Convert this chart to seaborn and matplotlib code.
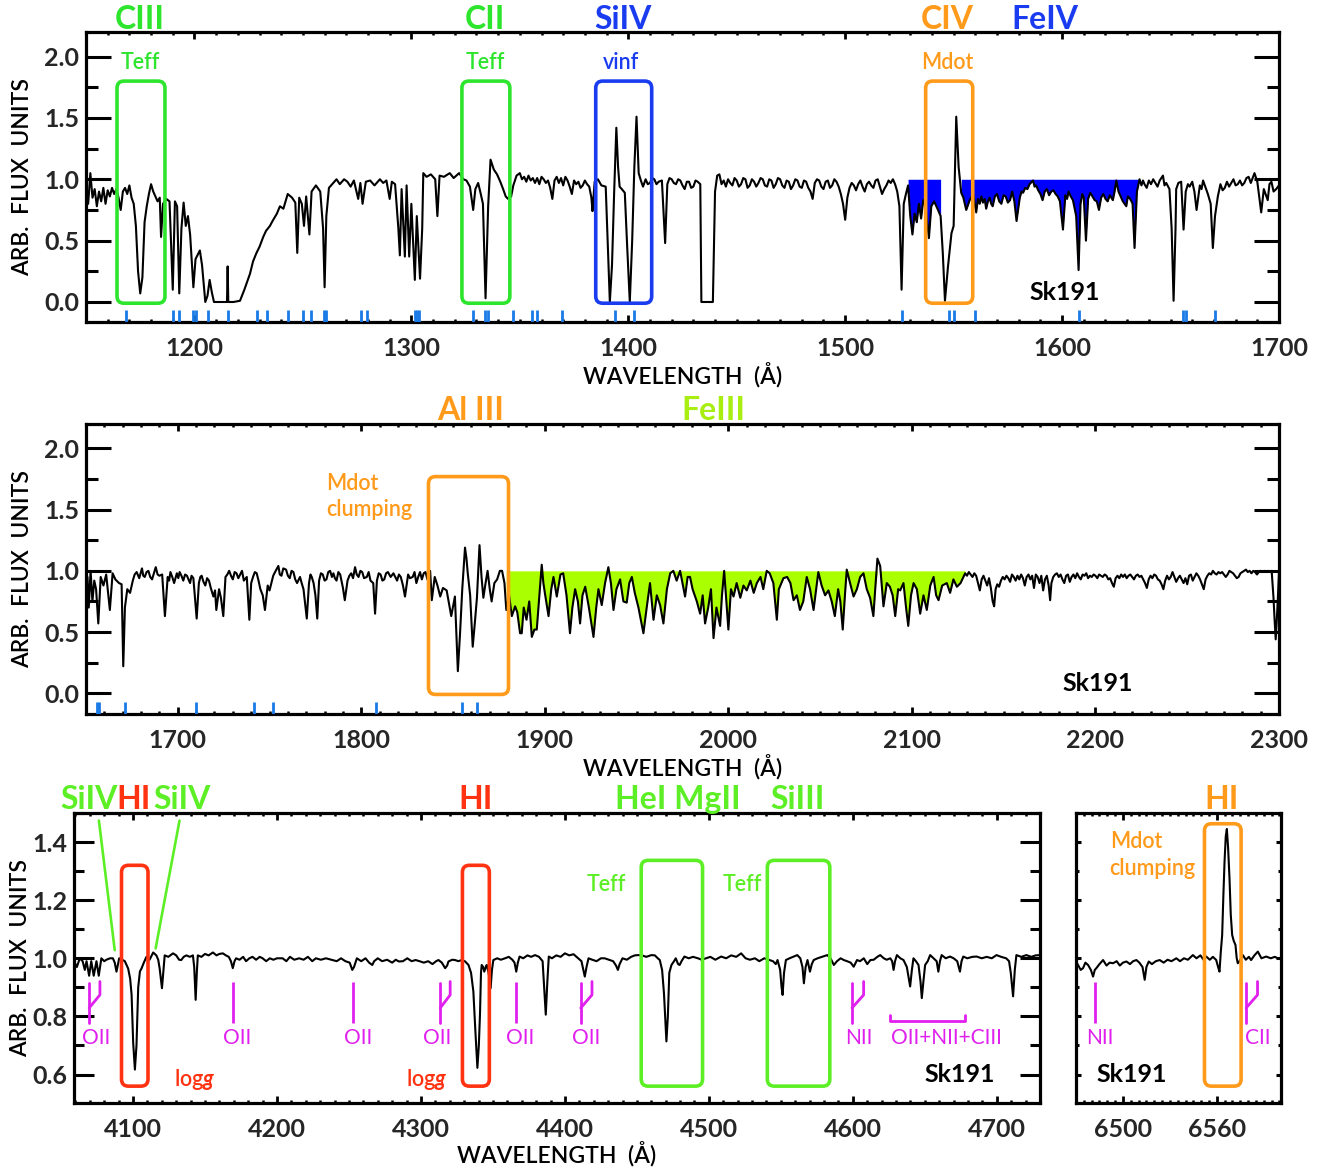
import numpy as np
import pandas as pd
import matplotlib
matplotlib.use("Agg")
import matplotlib.pyplot as plt
import seaborn as sns
from matplotlib.patches import FancyBboxPatch
from matplotlib.ticker import MultipleLocator

# ---------------- DATA ----------------
# Panel 1: UV spectrum 1150-1700 A, (wavelength, normalised flux) pairs
spec_uv1 = [
    (1150,0.88),(1151,0.80),(1152,1.05),(1153,0.85),(1154,0.92),(1155,0.78),(1156,0.90),(1157,0.82),(1158,0.93),(1159,0.80),
    (1160,0.91),(1161,0.86),(1162,0.93),(1163,0.88),(1164,0.92),(1165,0.85),(1166,0.75),(1167,0.90),(1168,0.93),(1169,0.88),
    (1170,0.95),(1171,0.85),(1172,0.80),(1173,0.62),(1174,0.25),(1175,0.07),(1176,0.20),(1177,0.65),(1178,0.78),(1179,0.88),
    (1180,0.96),(1181,0.90),(1182,0.86),(1183,0.82),(1184,0.85),(1184.6,0.53),(1185.5,0.80),(1187,0.84),(1188.5,0.82),(1190,0.10),
    (1191,0.82),(1192,0.78),(1193,0.07),(1194,0.60),(1195,0.81),(1196,0.62),(1197,0.70),(1198,0.55),(1199.5,0.12),(1200.5,0.35),
    (1202.5,0.42),(1203.5,0.30),(1205,0.00),(1206,0.05),(1207,0.18),(1208,0.08),(1209,0.00),(1212,0.00),(1215,0.00),(1215.3,0.29),
    (1215.6,0.00),(1218,0.00),(1221,0.01),(1223,0.10),(1225.6,0.23),(1227,0.33),(1228.6,0.40),(1230,0.45),(1231.7,0.53),(1233,0.58),
    (1234.8,0.62),(1236,0.66),(1238,0.72),(1239.4,0.78),(1241,0.76),(1243,0.88),(1245,0.85),(1246.5,0.81),(1247.4,0.40),(1248.3,0.85),
    (1249.5,0.80),(1250.5,0.62),(1251.5,0.86),(1253,0.55),(1254,0.90),(1256,0.95),(1258,0.90),(1259.3,0.60),(1260,0.12),(1260.8,0.70),
    (1262,0.93),(1264,0.97),(1265.5,1.00),(1267,0.96),(1269,1.00),(1270.5,0.98),(1272,0.94),(1273.5,0.99),(1275.5,0.84),(1276.5,0.97),
    (1277.5,0.80),(1279,0.98),(1281,0.99),(1283,0.95),(1285.5,1.00),(1287,0.97),(1288.5,0.99),(1290,0.84),(1291,0.98),(1292.5,0.96),
    (1294,0.60),(1294.7,0.38),(1295.5,0.92),(1297,0.37),(1297.8,0.95),(1299,0.37),(1300,0.80),(1301.6,0.18),(1302.5,0.70),(1304,0.19),
    (1305,0.60),(1305.5,1.05),(1307,1.02),(1309,1.04),(1311,1.00),(1312,0.70),(1313,1.03),(1315,1.02),(1317.7,1.05),(1319.5,1.01),
    (1322,1.05),(1324,1.00),(1325.4,0.99),(1327,0.94),(1328.5,0.75),(1329.5,0.92),(1330.8,0.97),(1332,0.88),(1333,0.80),(1334.2,0.03),
    (1335.4,0.78),(1336.5,1.16),(1338,1.08),(1339.5,1.04),(1341,0.98),(1342.3,0.92),(1343.5,0.86),(1344.6,0.84),(1346,0.86),(1347,0.95),
    (1348.5,1.03),(1350,1.05),(1351,1.00),(1352,1.02),(1353,0.98),(1354,1.03),(1355,0.99),(1356,1.01),(1357,0.97),(1358,1.01),
    (1359,0.96),(1360,1.02),(1361,1.00),(1362,0.97),(1363,0.99),(1364,0.93),(1365,0.84),(1366,0.99),(1367,1.02),(1368,0.97),
    (1369,1.01),(1370,0.95),(1371,1.02),(1372,0.99),(1373,0.94),(1374,0.88),(1375,0.99),(1376,0.96),(1377,0.98),(1378,0.93),
    (1379,0.95),(1380,0.99),(1381,0.96),(1382,0.94),(1383,0.85),(1383.5,0.74),(1384.5,0.98),(1386,1.00),(1387.6,0.95),(1389.6,0.94),
    (1390.5,0.50),(1391.5,0.00),(1392.5,0.30),(1393.5,0.90),(1394.5,1.42),(1395.3,1.10),(1396,0.94),(1397,0.92),(1398.4,0.89),(1399.5,0.45),
    (1400.7,0.00),(1401.8,0.50),(1402.8,1.10),(1403.8,1.51),(1404.8,1.05),(1405.8,0.99),(1406.8,0.94),(1408,1.00),(1409,0.96),(1410,0.97),
    (1411,1.01),(1412,1.00),(1413,0.96),(1414,0.98),(1415.5,0.99),(1417,0.48),(1418,0.96),(1419,1.01),(1420,1.00),(1421,0.97),
    (1422,0.96),(1423,1.00),(1424,0.99),(1425,0.95),(1426,0.92),(1427,0.98),(1428,0.98),(1429,0.93),(1430,0.94),(1431,0.99),
    (1432,0.98),(1433.2,0.96),(1433.7,0.00),(1439,0.00),(1440,0.90),(1441,1.03),(1442,1.04),(1443,0.96),(1444,0.99),(1445,0.94),
    (1446,1.00),(1447,0.97),(1448,0.95),(1449,1.01),(1450,0.99),(1451,0.94),(1452,0.96),(1453,1.01),(1454,1.00),(1455,0.93),
    (1456,0.95),(1457,1.00),(1458,0.98),(1459,0.94),(1460,0.97),(1461,1.01),(1462,1.00),(1463,0.95),(1464,0.94),(1465,1.00),
    (1466,0.99),(1467,0.93),(1468,0.96),(1469,1.01),(1470,1.00),(1471,0.95),(1472,0.93),(1473,0.99),(1474,0.98),(1475,0.92),
    (1476,0.95),(1477,1.00),(1478,0.99),(1479,0.94),(1480,0.93),(1481,0.99),(1482,0.98),(1483,0.93),(1484,0.90),(1485,0.84),
    (1486,0.97),(1487,1.00),(1488,0.99),(1489,0.94),(1490,0.92),(1491,0.98),(1492,0.99),(1493,0.93),(1494,0.95),(1495,1.00),
    (1496,0.98),(1497,0.94),(1498,0.88),(1499,0.80),(1500,0.67),(1501,0.85),(1502,0.93),(1503,0.97),(1504,0.95),(1505,0.91),
    (1506,0.96),(1507,0.99),(1508,0.94),(1509,0.90),(1510,0.96),(1511,0.98),(1512,0.95),(1513,0.93),(1514,0.99),(1515,1.00),
    (1516,0.94),(1517,0.88),(1518,0.92),(1519,0.95),(1520,0.99),(1521,0.97),(1522,1.00),(1523,0.96),(1524,0.90),(1525,0.78),
    (1526,0.10),(1527,0.80),(1528,0.88),(1529,0.95),(1530,0.70),(1531,0.55),(1532,0.72),(1533,0.65),(1534,0.80),(1535,0.68),
    (1536,0.83),(1537,0.78),(1538.6,0.52),(1539.7,0.78),(1541,0.82),(1542.8,0.75),(1544,0.70),(1545,0.40),(1546,0.01),(1547.4,0.29),
    (1549,0.56),(1550,0.62),(1551.2,1.51),(1552.3,1.10),(1553.5,0.89),(1554.5,0.85),(1555.8,0.75),(1557.4,0.83),(1559,0.88),(1560.4,0.73),
    (1561.2,0.84),(1562,0.80),(1562.8,0.86),(1563.5,0.81),(1564.3,0.84),(1565,0.76),(1565.8,0.82),(1566.6,0.85),(1567.3,0.80),(1568,0.78),
    (1569,0.86),(1570,0.88),(1571,0.82),(1572,0.80),(1573,0.87),(1574,0.86),(1575,0.81),(1576,0.83),(1577,0.90),(1578,0.82),
    (1579,0.66),(1580.5,0.85),(1581.3,0.90),(1582,0.89),(1583,0.93),(1584,0.92),(1585,0.96),(1586.6,0.99),(1587.3,0.94),(1588,0.95),
    (1589,0.91),(1590,0.88),(1591,0.83),(1592,0.90),(1593,0.92),(1594,0.87),(1595,0.90),(1596,0.91),(1597,0.88),(1598,0.86),
    (1599,0.82),(1600.4,0.59),(1601.5,0.87),(1602.3,0.84),(1603,0.90),(1604,0.86),(1605,0.83),(1606.5,0.70),(1607.6,0.26),(1608.5,0.80),
    (1609.3,0.88),(1610,0.85),(1611,0.50),(1612,0.84),(1613,0.89),(1614,0.86),(1615,0.83),(1616,0.82),(1617,0.75),(1618,0.85),
    (1619,0.88),(1620,0.84),(1621,0.82),(1622,0.87),(1623.4,0.83),(1624.2,0.90),(1625,0.99),(1626,0.90),(1627,0.86),(1628,0.82),
    (1629.6,0.78),(1630.3,0.86),(1631,0.85),(1632,0.82),(1632.5,0.80),(1633.4,0.44),(1634.5,0.90),(1635.7,1.00),(1636.6,0.95),(1637.3,0.99),
    (1638,0.96),(1639,0.93),(1640,0.99),(1641,0.96),(1642,1.00),(1643,0.97),(1644,0.94),(1645,0.99),(1646.5,1.03),(1647.2,0.95),
    (1648,0.97),(1649.5,0.92),(1650.5,0.60),(1651.4,0.01),(1652.3,0.60),(1652.6,0.92),(1653.6,0.97),(1654.9,0.98),(1656,0.59),(1657,0.90),
    (1658,0.96),(1658.8,0.94),(1660,0.98),(1661,0.90),(1662,0.75),(1663.5,0.95),(1664.3,0.92),(1665,0.99),(1666,0.94),(1667.2,0.88),
    (1668.5,0.80),(1669.5,0.44),(1670.5,0.70),(1671.8,0.86),(1673,0.96),(1674,0.91),(1675,0.93),(1676,0.98),(1677,0.94),(1678,0.97),
    (1679,1.00),(1680,0.95),(1681,0.96),(1682,0.99),(1683,0.95),(1684,0.97),(1685,1.01),(1686,1.02),(1687,0.97),(1688.7,1.05),
    (1690,0.98),(1691.8,0.73),(1693,0.92),(1694.8,0.83),(1695.6,0.96),(1696.5,0.98),(1697.5,0.90),(1698.7,0.92),(1700,0.95)]
fill_uv1_ranges = [(1529, 1544.5), (1553.5, 1635.7)]
lineid_uv1 = [1168.4,1190.2,1192.9,1199.5,1200.5,1206.4,1215.6,1228.7,1233.3,1243.2,1250.1,1253.7,1259.6,1260.5,
    1277.0,1279.6,1301.8,1302.7,1303.6,1328.5,1334.1,1335.2,1346.9,1355.4,1358.0,1369.5,1393.8,1402.7,
    1526.4,1547.8,1550.2,1559.9,1608.0,1655.8,1657.2,1670.3]

# Panel 2: UV spectrum 1650-2300 A
spec_uv2 = [
    (1650,0.55),(1650.8,0.95),(1651.5,0.70),(1652.5,1.00),(1653.5,0.75),(1654.5,0.92),(1655.5,0.85),(1656.7,0.57),(1658,0.95),(1659.5,0.88),
    (1661,0.97),(1663,0.68),(1664.5,0.98),(1666,0.93),(1668,0.90),(1669.4,0.89),(1670.3,0.22),(1671.2,0.70),(1672.5,0.85),(1674,0.82),
    (1675.5,0.92),(1676.5,0.97),(1677.6,0.99),(1679,0.94),(1680.5,1.02),(1681.2,0.96),(1682,0.95),(1683,0.99),(1684,1.00),(1685,0.95),
    (1686,0.93),(1687,0.98),(1688,1.03),(1689,0.97),(1690,0.96),(1691.5,0.97),(1693,0.63),(1694.5,0.95),(1695.3,0.92),(1696,0.99),
    (1697,0.95),(1698,0.90),(1699.5,0.98),(1700.3,0.94),(1701,0.99),(1702,0.96),(1703,0.92),(1704,0.97),(1705,0.96),(1706.7,0.90),
    (1707.5,0.96),(1708.5,0.94),(1710.3,0.61),(1711.5,0.90),(1712.3,0.95),(1713,0.96),(1714,0.91),(1715,0.88),(1716,0.94),(1717,0.92),
    (1718,0.86),(1719.4,0.79),(1720.3,0.84),(1721,0.68),(1722.5,0.85),(1723.5,0.78),(1724.8,0.63),(1726,0.95),(1727,0.97),(1728,1.00),
    (1729,0.96),(1730,0.93),(1731,0.99),(1732,0.98),(1733,0.94),(1734,0.97),(1735,1.00),(1736,0.92),(1737.6,0.95),(1739,0.60),
    (1740,0.90),(1741,0.95),(1742,0.99),(1743,0.98),(1744,0.92),(1745,0.85),(1746.3,0.80),(1747.5,0.68),(1749,0.88),(1750,0.84),
    (1751,0.90),(1752,0.96),(1753,0.99),(1754.8,1.04),(1755.6,0.97),(1756.5,0.96),(1757.5,1.02),(1759,1.01),(1760,0.96),(1761,0.94),
    (1762,1.00),(1763,0.99),(1764,0.93),(1765,0.90),(1766.6,0.95),(1767.5,0.90),(1768.5,0.85),(1770.3,0.61),(1771.5,0.90),(1772.3,0.97),
    (1773,0.95),(1774,0.90),(1775,0.80),(1776,0.61),(1777,0.92),(1778,0.98),(1779,0.97),(1780,0.92),(1781,0.93),(1782,0.99),
    (1783,1.00),(1784,0.95),(1784.8,0.98),(1785.6,0.94),(1786.5,0.92),(1787.5,0.99),(1788.5,0.97),(1790,0.86),(1791,0.76),(1792.5,0.92),
    (1793.5,0.96),(1794.5,0.98),(1795.5,0.94),(1796.6,1.03),(1797.5,0.97),(1798.5,0.95),(1799.5,1.00),(1800.5,0.99),(1801.5,0.94),(1803,0.95),
    (1804,0.99),(1805,0.92),(1806.5,0.90),(1807.5,0.65),(1808.5,0.92),(1809.5,0.98),(1810.5,0.97),(1811.5,0.92),(1812.5,0.93),(1813.5,0.98),
    (1814.5,0.99),(1816,0.95),(1817.5,0.98),(1818.5,0.95),(1819.5,0.92),(1820.5,0.97),(1821.5,0.95),(1822.7,0.88),(1823.8,0.79),(1825.5,0.97),
    (1826.5,0.94),(1828,0.95),(1829,0.99),(1830,0.90),(1831,0.95),(1832,0.99),(1833,0.93),(1834,0.98),(1835,0.99),(1836,0.93),
    (1837.5,1.00),(1838.4,0.76),(1840,0.95),(1841.5,0.88),(1843,0.79),(1844.5,0.86),(1846.5,0.84),(1849,0.63),(1851,0.79),(1852.6,0.18),
    (1853.8,0.49),(1855,0.85),(1856.5,1.19),(1857.3,1.10),(1858,0.98),(1859.3,0.80),(1860.7,0.38),(1862,0.60),(1863,0.78),(1864.4,1.21),
    (1865.5,0.95),(1866.5,0.78),(1867.7,0.90),(1868.8,1.00),(1870,0.85),(1871,0.75),(1872.5,0.90),(1874,0.93),(1875.5,1.00),(1876.7,1.00),
    (1878,0.90),(1879,0.68),(1880.5,0.80),(1882,0.63),(1883.8,0.71),(1885,0.66),(1886.5,0.49),(1887.4,0.49),(1888.5,0.70),(1890,0.60),
    (1891.5,0.75),(1892.9,0.46),(1894.3,0.52),(1895.6,0.52),(1897,0.80),(1898.3,1.05),(1899.2,0.90),(1900,0.82),(1902,0.63),(1903.5,0.85),
    (1904.7,0.95),(1906.5,0.79),(1908.5,0.97),(1910,0.98),(1911.8,0.80),(1913.7,0.49),(1915,0.70),(1916.5,0.85),(1918,0.75),(1919.2,0.57),
    (1920.5,0.80),(1922,0.87),(1924,0.70),(1926.5,0.46),(1928,0.70),(1929.2,0.85),(1931,0.72),(1932.8,0.90),(1934.6,1.03),(1936,0.90),
    (1937.4,0.68),(1939,0.85),(1941,0.93),(1942.8,0.75),(1944.6,0.74),(1946,0.90),(1947.4,0.95),(1949,0.82),(1951,0.70),(1953.7,0.49),
    (1955.5,0.70),(1957.3,0.90),(1959.2,0.60),(1961,0.80),(1962.8,0.72),(1964.6,0.57),(1966.5,0.85),(1968.3,0.98),(1970,1.00),(1971.8,0.92),
    (1973.7,1.00),(1975,0.90),(1976.4,0.79),(1977.8,0.95),(1979.1,0.95),(1980.5,0.85),(1982.8,0.75),(1984.6,0.65),(1986,0.80),(1987.3,0.57),
    (1989,0.70),(1990.5,0.85),(1991.9,0.45),(1993.5,0.70),(1995.5,0.55),(1996.5,0.80),(1997.7,1.00),(1998.9,0.75),(2000,0.52),(2001.4,0.85),
    (2002.8,0.79),(2004.5,0.90),(2006.5,0.78),(2008.2,0.88),(2010,0.84),(2012,0.92),(2013.8,0.82),(2015.5,0.90),(2017.5,0.95),(2019,0.85),
    (2020.9,1.00),(2022.5,0.98),(2024.5,0.90),(2026.4,0.60),(2027.5,0.85),(2030,0.94),(2032,0.95),(2033.8,0.90),(2035.5,0.76),(2037.3,0.80),
    (2039,0.68),(2040.8,0.75),(2042.7,0.95),(2044.5,0.85),(2046.4,0.68),(2047.8,0.85),(2049,0.99),(2050.8,0.88),(2052.7,0.80),(2054.5,0.84),
    (2056.3,0.75),(2058,0.63),(2059.8,0.85),(2061,0.75),(2062.3,0.52),(2063.5,0.80),(2064.5,1.01),(2066.3,0.90),(2068.2,0.79),(2070,0.85),
    (2071.8,0.95),(2073.6,0.98),(2075.4,0.85),(2077.2,0.78),(2079,0.63),(2080,0.85),(2081.2,1.10),(2082.7,1.04),(2084.5,0.71),(2086.3,0.90),
    (2088,0.87),(2089.5,0.80),(2090.9,0.63),(2092.5,0.85),(2093.6,0.84),(2095.4,0.90),(2096.8,0.70),(2098,0.55),(2099.5,0.80),(2100.9,0.90),
    (2102.7,0.85),(2104.5,0.65),(2106.3,0.80),(2108.1,0.68),(2110,0.88),(2111.8,0.95),(2113.2,0.80),(2114.5,0.76),(2116.5,0.88),(2119,0.90),
    (2120.8,0.82),(2122.6,0.93),(2124.5,0.87),(2126.5,0.90),(2129,0.98),(2130,0.96),(2131,0.99),(2132,0.97),(2133,0.95),(2134,0.98),
    (2135,0.96),(2136,0.90),(2137,0.84),(2138,0.93),(2139,0.96),(2140,0.92),(2141,0.88),(2142,0.94),(2143,0.86),(2144,0.75),
    (2144.8,0.71),(2145.6,0.85),(2146.5,0.89),(2147.5,0.87),(2148.5,0.92),(2149.5,0.95),(2150.5,0.93),(2151.5,0.96),(2152.5,0.94),(2153.5,0.91),
    (2154.5,0.97),(2155.5,0.95),(2156.5,0.92),(2157.5,0.96),(2158.5,0.93),(2159.5,0.97),(2160.5,0.94),(2161.5,0.88),(2162.5,0.95),(2163.5,0.97),
    (2164.5,0.93),(2165.5,0.96),(2166.5,0.86),(2167.5,0.97),(2168.5,0.95),(2169.5,0.90),(2170.5,0.96),(2171.5,0.84),(2172.5,0.93),(2173.5,0.96),
    (2174.5,0.88),(2175.3,0.76),(2176,0.90),(2177,0.95),(2178,0.97),(2179,0.98),(2180,0.95),(2181,0.97),(2182,0.93),(2183,0.90),
    (2184,0.96),(2185,0.97),(2186,0.91),(2187,0.95),(2188,0.97),(2189,0.94),(2190,0.98),(2191,0.95),(2192,0.93),(2193,0.97),
    (2194,0.96),(2195,0.98),(2196,0.94),(2197,0.96),(2198,0.95),(2199,0.97),(2200,0.96),(2201,0.94),(2202,0.97),(2203,0.96),
    (2204,0.95),(2205,0.97),(2206,0.96),(2207,0.93),(2208,0.94),(2209,0.90),(2210,0.87),(2211,0.94),(2212,0.96),(2213,0.94),
    (2214,0.97),(2215,0.95),(2216,0.97),(2217,0.94),(2218,0.96),(2219,0.97),(2220,0.95),(2221,0.93),(2222,0.96),(2223,0.97),
    (2224,0.95),(2225,0.96),(2226,0.93),(2227,0.90),(2228,0.86),(2229,0.93),(2230,0.96),(2231,0.94),(2232,0.97),(2233,0.96),
    (2234,0.93),(2235,0.92),(2236,0.89),(2237,0.85),(2238,0.92),(2239,0.96),(2240,0.93),(2241,0.95),(2242,0.99),(2243,0.95),
    (2244,0.91),(2245,0.94),(2246,0.96),(2247,0.93),(2248,0.90),(2249,0.94),(2250,0.89),(2251,0.96),(2252,0.97),(2253,0.92),
    (2254,0.95),(2255,0.98),(2256,0.96),(2257,0.93),(2258,0.89),(2259,0.85),(2260,0.93),(2261,0.96),(2262,0.98),(2263,0.97),
    (2264,1.00),(2265,0.98),(2266,0.97),(2267,0.99),(2268,0.98),(2269,0.99),(2270,0.97),(2271,0.95),(2272,0.97),(2273,1.00),
    (2274,0.99),(2275,0.98),(2276,0.96),(2277,0.94),(2278,0.95),(2279,0.98),(2280,0.99),(2281,1.00),(2282,1.01),(2283,0.99),
    (2284,1.00),(2285,0.98),(2286,1.00),(2287,0.99),(2288,0.97),(2289,0.99),(2290,1.00),(2291,0.99),(2292,1.00),(2293,0.99),
    (2294,1.00),(2295,0.99),(2296,1.00),(2297,0.78),(2297.6,0.60),(2298.2,0.44),(2298.8,0.60),(2299.3,0.75),(2300,0.99)]
fill_uv2_ranges = [(1879, 2129)]
lineid_uv2 = [1655.8,1657.2,1671.3,1710.0,1741.6,1752.0,1808.0,1855.0,1863.3]

# Panel 3: optical blue spectrum 4059-4730 A
wave_opt = [4059,4061,4063,4065,4066.5,4067.7,4069.5,4071,4072.7,4074.6,4076.2,4078,4080,4081.5,4084,4086,4087.3,4088.5,4090.4,4092.5,
    4094.3,4096.6,4098,4099,4100.1,4101.3,4102.4,4103.6,4104.8,4105.9,4107.5,4109.3,4111.5,4114,4116.2,4117.5,4118.5,4120.1,4121,4122,
    4124.5,4127.8,4130,4132,4133.5,4135.2,4137,4139.5,4141.6,4142.5,4143.5,4144.3,4145,4147.5,4150,4152.5,4155.5,4158,4160,4162.4,
    4164.5,4166.5,4168,4169.3,4170.5,4171.6,4174,4176.5,4178.5,4180.8,4183,4185.5,4188,4190,4192.5,4195,4197.5,4200,4203.9,4206.5,
    4209,4212,4215.4,4218.5,4221.5,4224.5,4227,4230.5,4234,4238.5,4241.5,4244.5,4247.5,4250.5,4252.3,4253.5,4255.5,4258.5,4261.5,4264,
    4266.2,4267.5,4270,4273,4276.5,4280,4282.5,4284.7,4287.5,4290.5,4293.5,4296.3,4299,4302,4305,4308,4310.5,4312.2,4314.5,4316.8,
    4318.2,4319.1,4321.7,4323.7,4326,4328.3,4330.5,4333,4334.8,4336.4,4337.8,4339.2,4340.2,4341,4341.7,4342.2,4343.2,4344,4345,4345.7,
    4347,4348.4,4349.3,4350.3,4353,4355.5,4358.4,4361,4363.5,4365,4366.2,4367.3,4368.5,4371,4374,4376.5,4379.3,4382,4384.5,4385.6,
    4386.7,4387.8,4388.8,4391,4394,4397,4400,4403,4406,4409.2,4411.5,4412.8,4413.8,4415,4416.4,4419,4422,4425,4427.6,4430.5,
    4433.5,4435.5,4436.8,4438,4440,4443,4446,4448.5,4450.9,4453.5,4456.5,4460.1,4462.5,4464.5,4465.9,4467.5,4468.8,4470.5,4471.5,4472.5,
    4474,4475.8,4477,4478.6,4479.7,4481,4483,4486,4489,4492.4,4495,4498,4501,4504.5,4508.5,4512,4515.5,4519,4522.4,4525.5,
    4528.5,4532,4535,4538.5,4541.5,4544.5,4546.5,4547.7,4549.5,4550.5,4551.2,4552.2,4553.5,4556,4558.5,4561.4,4563.5,4565,4566,4567.2,
    4568.5,4570.2,4571.5,4572.8,4575.5,4578.5,4582.2,4584.5,4586.8,4589,4591.5,4593.7,4596,4598.5,4600.6,4602.9,4605,4607.6,4610,4612.2,
    4614.5,4617,4619,4621.5,4623.5,4626,4627.3,4628.3,4629.3,4630.6,4633,4635.2,4637.5,4639.8,4641,4642.1,4643.8,4645.6,4647,4647.9,
    4649,4650.2,4652,4653.7,4656,4658.2,4659.4,4660.5,4661.7,4664.5,4667.5,4670,4672.5,4674.4,4675.5,4676.7,4679.5,4683,4686,4689.5,
    4693,4696.5,4699.8,4703,4706.5,4708.5,4709.7,4711.3,4712.5,4713.6,4717,4720.5,4724,4727,4730]
flux_opt = [0.99,0.97,1.00,0.99,0.96,0.99,0.94,0.99,0.94,0.99,0.94,1.00,0.99,0.995,1.00,1.00,0.985,0.954,1.00,0.995,
    0.99,0.965,0.93,0.875,0.71,0.617,0.70,0.90,0.955,0.965,0.985,1.005,0.995,1.02,1.01,0.995,0.965,0.897,0.95,1.01,
    1.005,1.017,1.01,0.995,0.994,1.005,1.01,1.005,1.01,0.97,0.857,0.95,1.01,1.005,1.015,1.01,1.02,1.01,1.015,1.017,
    1.01,1.005,0.99,0.966,0.99,1.00,0.995,1.005,0.99,1.00,1.005,0.995,1.005,1.00,0.99,1.00,0.995,1.00,1.00,0.99,
    1.005,0.995,1.00,0.995,1.005,0.99,1.00,0.995,1.00,0.994,0.99,1.00,0.99,0.985,0.96,0.97,1.00,0.99,1.00,0.985,
    0.977,0.99,1.00,0.99,0.995,0.985,0.995,0.989,0.99,1.00,0.99,0.994,0.99,0.985,0.99,0.98,0.99,0.994,0.985,0.966,
    0.975,0.989,0.995,0.994,0.99,0.994,0.99,0.977,0.95,0.886,0.75,0.623,0.70,0.806,0.95,0.977,0.97,0.954,0.97,0.977,
    0.95,0.897,0.96,0.994,1.00,0.995,1.00,1.005,0.995,0.985,0.954,0.985,1.006,1.00,1.01,1.005,1.011,1.005,0.99,0.90,
    0.806,0.92,1.006,1.00,1.01,1.005,1.017,1.01,1.014,1.00,0.99,0.96,0.937,0.97,1.00,0.995,0.99,1.00,1.00,0.995,
    0.99,0.975,0.96,0.98,1.00,0.995,1.005,1.01,1.011,1.01,1.005,1.011,1.01,1.00,0.994,0.96,0.88,0.714,0.80,0.95,
    0.977,0.99,1.00,0.98,0.977,0.99,1.006,1.00,1.005,1.00,0.995,1.00,1.005,0.995,1.006,1.00,1.01,1.005,1.017,1.00,
    0.995,1.00,0.99,1.00,0.995,0.99,0.98,0.994,0.96,0.90,0.874,0.95,0.994,1.00,1.005,1.011,1.00,0.97,0.914,0.97,
    0.994,0.954,0.98,0.994,1.00,1.005,1.011,1.00,0.977,0.99,1.00,0.994,0.99,0.985,0.971,0.994,0.99,1.00,0.98,0.994,
    0.995,1.005,1.011,1.00,0.995,1.00,0.99,0.96,0.99,1.011,1.00,0.994,0.97,0.903,0.96,1.00,0.99,0.977,0.92,0.863,
    0.92,0.977,0.99,1.011,1.00,0.99,0.954,0.99,1.011,1.00,1.006,1.00,0.99,0.954,0.99,1.006,1.00,1.005,1.006,1.00,
    1.005,1.00,1.011,1.005,1.00,0.99,0.95,0.869,0.96,1.011,1.005,1.011,1.005,1.01,1.011]

# Panel 4: H-alpha region 6470-6600 A
wave_ha = [6470,6471.3,6473,6474.5,6476,6477.7,6479.5,6480.9,6482,6483,6485,6487.3,6489.5,6491.5,6493.7,6496,6498,6500,6502.2,6504.5,
    6506.5,6508.6,6510.5,6512.5,6513.9,6515,6516.5,6518.5,6521,6523.5,6526,6528.5,6531,6534.1,6536.5,6539,6541.5,6544.7,6547,6549.5,
    6551.5,6553.2,6555.5,6557.5,6559.6,6560.8,6561.7,6562.5,6563.4,6564.2,6564.9,6565.7,6566.4,6567.2,6568.1,6568.9,6569.8,6570.8,6571.9,6572.7,
    6573.4,6574.5,6576.6,6578.5,6580.5,6581.9,6584,6586.2,6588.5,6591.5,6594.5,6597,6599,6600]
flux_ha = [0.99,0.977,0.96,0.966,0.985,0.977,0.96,0.937,0.96,0.966,0.98,0.994,0.975,0.985,0.983,0.99,0.975,0.985,0.989,0.98,
    0.99,0.994,0.985,0.97,0.926,0.97,0.989,0.98,0.99,0.994,0.985,0.995,0.99,1.00,0.99,1.00,0.995,1.011,1.00,1.01,
    0.995,1.006,0.995,1.005,0.994,0.97,0.954,1.02,1.08,1.22,1.33,1.42,1.445,1.38,1.274,1.15,1.08,1.06,1.046,1.00,
    0.983,0.99,1.011,0.995,1.005,0.994,1.01,1.023,1.00,1.006,1.00,1.005,1.00,1.00]

# Line identification marks (optical)
oii_single = [4169.2, 4253.0, 4365.7]
oii_forks = [(4069.5, 4077.0), (4313.4, 4320.3), (4411.0, 4418.8)]
nii_fork = [(4599.4, 4607.5)]
blend_bracket = (4626.0, 4678.0)
ha_single = [6482.4]
ha_forks = [(6578.7, 6586.0)]

# ---------------- STYLE ----------------
sns.set_theme(style="white")
plt.rcParams['font.family'] = ['Lato', 'DejaVu Sans']
plt.rcParams['mathtext.fontset'] = 'custom'
plt.rcParams['mathtext.rm'] = 'Lato'
plt.rcParams['mathtext.it'] = 'Lato:italic:bold'

GREEN1 = '#2ee52e'
GREEN2 = '#5def26'
LIME_T = '#a8ee10'
LIME_F = '#aaff00'
BLUE = '#1a3cf0'
FILLB = '#0000ff'
ORANGE = '#ff9a1a'
RED = '#ff3311'
MAG = '#e020ee'
TICKB = '#1a7ae6'

fig = plt.figure(figsize=(13.33, 11.71), dpi=100)
W, H = 1333, 1171


def px_axes(x0, y0, x1, y1):
    return fig.add_axes([x0 / W, 1 - y1 / H, (x1 - x0) / W, (y1 - y0) / H])


ax1 = px_axes(86, 32, 1279, 322)
ax2 = px_axes(86, 424, 1279, 714)
ax3 = px_axes(74, 813, 1040, 1103)
ax4 = px_axes(1076, 813, 1281, 1103)


def draw_spec(ax, w, f):
    df = pd.DataFrame({'wave': w, 'flux': f})
    sns.lineplot(data=df, x='wave', y='flux', ax=ax, color='black', lw=1.5,
                 estimator=None, sort=False, legend=False, zorder=3)


def style(ax, xlim, ylim, xmaj, xmin, ymaj, ymin, ylen, xlen=(5.0, 2.5),
          xticks=None, yticks=None, ylabels=True):
    ax.set_xlim(*xlim)
    ax.set_ylim(*ylim)
    for s in ax.spines.values():
        s.set_visible(True)
        s.set_color('black')
        s.set_linewidth(2.3)
    if xticks is None:
        xticks = list(np.arange(np.ceil(xlim[0] / xmaj) * xmaj, xlim[1] + 0.01, xmaj))
    ax.set_xticks(xticks, [f'{int(round(t))}' for t in xticks],
                  fontsize=18, fontweight='bold')
    ax.xaxis.set_minor_locator(MultipleLocator(xmin))
    if yticks is None:
        yticks = list(np.arange(0, ylim[1] + 0.001, ymaj))
    if ylabels:
        ax.set_yticks(yticks, [f'{t:.1f}' for t in yticks], fontsize=18, fontweight='bold')
    else:
        ax.set_yticks(yticks, ['' for _ in yticks])
    ax.yaxis.set_minor_locator(MultipleLocator(ymin))
    ax.tick_params(axis='both', which='both', direction='in', top=True, right=True,
                   bottom=True, left=True, color='black')
    ax.tick_params(axis='x', which='major', length=xlen[0], width=2, pad=11)
    ax.tick_params(axis='x', which='minor', length=xlen[1], width=1.8)
    ax.tick_params(axis='y', which='major', length=ylen[0], width=2.2, pad=5)
    ax.tick_params(axis='y', which='minor', length=ylen[1], width=2.2)
    ax.set_xlabel('')
    ax.set_ylabel('')
    ax.grid(False)


def rbox(ax, x0, x1, y0, y1, color, lw=2.6, rpx=7):
    bb = ax.get_position()
    wpx = bb.width * W
    hpx = bb.height * H
    xl, yl = ax.get_xlim(), ax.get_ylim()
    xpp = (xl[1] - xl[0]) / wpx
    ypp = (yl[1] - yl[0]) / hpx
    p = FancyBboxPatch((x0, y0), x1 - x0, y1 - y0,
                       boxstyle=f"round,pad=0,rounding_size={rpx * xpp}",
                       mutation_aspect=ypp / xpp, fc='none', ec=color, lw=lw,
                       zorder=5, clip_on=False)
    ax.add_patch(p)


def top_label(ax, x, text, color, y=1.012):
    ax.text(x, y, text, color=color, fontsize=23, fontweight='bold', ha='center',
            va='baseline', transform=ax.get_xaxis_transform(), clip_on=False)


def fill_ranges(ax, w, f, ranges, color):
    w = np.asarray(w); f = np.asarray(f)
    for a, b in ranges:
        m = (w >= a) & (w <= b)
        ax.fill_between(w[m], np.minimum(f[m], 1.0), 1.0, color=color, lw=0, zorder=2)


XLAB = dict(fontsize=16.5, color='black', fontweight='semibold')
LAB = dict(fontsize=15.5, fontweight='semibold')
SK = dict(fontsize=18, fontweight='bold', ha='center', va='center', color='black')

wave_uv1 = [p[0] for p in spec_uv1]
flux_uv1 = [p[1] for p in spec_uv1]
wave_uv2 = [p[0] for p in spec_uv2]
flux_uv2 = [p[1] for p in spec_uv2]

# ---------- Panel 1 ----------
draw_spec(ax1, wave_uv1, flux_uv1)
style(ax1, (1150, 1700), (-0.163, 2.2), 100, 10, 0.5, 0.25, ylen=(18, 8.6))
fill_ranges(ax1, wave_uv1, flux_uv1, fill_uv1_ranges, FILLB)
ax1.vlines(lineid_uv1, -0.163, -0.065, color=TICKB, lw=2, zorder=4)
rbox(ax1, 1164.3, 1186.4, -0.01, 1.80, GREEN1)
rbox(ax1, 1323.3, 1345.4, -0.01, 1.80, GREEN1)
rbox(ax1, 1385.0, 1410.8, -0.01, 1.80, BLUE)
rbox(ax1, 1537.1, 1558.8, -0.01, 1.80, ORANGE)
top_label(ax1, 1174.9, 'CIII', GREEN1)
top_label(ax1, 1333.9, 'CII', GREEN1)
top_label(ax1, 1397.5, 'SiIV', BLUE)
top_label(ax1, 1547.2, 'CIV', ORANGE)
top_label(ax1, 1591.9, 'FeIV', BLUE)
for x, t, c in [(1174.9, 'Teff', GREEN1), (1333.9, 'Teff', GREEN1),
                (1396.6, 'vinf', BLUE), (1547.2, 'Mdot', ORANGE)]:
    ax1.text(x, 1.95, t, color=c, ha='center', va='center', **LAB)
ax1.text(1601.2, 0.08, 'Sk191', **SK)
ax1.set_xlabel('WAVELENGTH  (Å)', labelpad=1, **XLAB)
ax1.set_ylabel('ARB.  FLUX  UNITS', labelpad=8, **XLAB)

# ---------- Panel 2 ----------
draw_spec(ax2, wave_uv2, flux_uv2)
style(ax2, (1650, 2300), (-0.17, 2.2), 100, 10, 0.5, 0.25, ylen=(18, 8.6))
fill_ranges(ax2, wave_uv2, flux_uv2, fill_uv2_ranges, LIME_F)
ax2.vlines(lineid_uv2, -0.17, -0.075, color=TICKB, lw=2, zorder=4)
rbox(ax2, 1836.6, 1880.2, -0.01, 1.77, ORANGE)
top_label(ax2, 1859.3, 'Al III', ORANGE, y=1.014)
top_label(ax2, 1991.7, 'FeIII', LIME_T, y=1.014)
ax2.text(1780.8, 1.717, 'Mdot', color=ORANGE, ha='left', va='center', **LAB)
ax2.text(1780.8, 1.505, 'clumping', color=ORANGE, ha='left', va='center', **LAB)
ax2.text(2201.5, 0.077, 'Sk191', **SK)
ax2.set_xlabel('WAVELENGTH  (Å)', labelpad=1, **XLAB)
ax2.set_ylabel('ARB.  FLUX  UNITS', labelpad=8, **XLAB)

# ---------- Panel 3 ----------
draw_spec(ax3, wave_opt, flux_opt)
style(ax3, (4059, 4730), (0.502, 1.5), 100, 10, 0.2, 0.1, ylen=(14.4, 7.2),
      xticks=[4100, 4200, 4300, 4400, 4500, 4600, 4700], yticks=[0.6, 0.8, 1.0, 1.2, 1.4])
rbox(ax3, 4092.0, 4110.4, 0.56, 1.32, RED)
rbox(ax3, 4328.8, 4347.5, 0.56, 1.32, RED)
rbox(ax3, 4453.0, 4495.6, 0.56, 1.337, GREEN2)
rbox(ax3, 4540.6, 4584.0, 0.56, 1.337, GREEN2)
ax3.plot([4076.3, 4087.3], [1.474, 1.028], color=GREEN2, lw=1.9, zorder=4)
ax3.plot([4132.3, 4115.7], [1.474, 1.034], color=GREEN2, lw=1.9, zorder=4)
top_label(ax3, 4069.6, 'SiIV', GREEN2, y=1.014)
top_label(ax3, 4100.5, 'HI', RED, y=1.014)
top_label(ax3, 4133.8, 'SiIV', GREEN2, y=1.014)
top_label(ax3, 4337.9, 'HI', RED, y=1.014)
top_label(ax3, 4478.4, 'HeI MgII', GREEN2, y=1.014)
top_label(ax3, 4561.4, 'SiIII', GREEN2, y=1.014)
for x in [4142.7, 4303.8]:
    ax3.text(x, 0.582, 'log$g$', color=RED, ha='center', va='center', **LAB)
for x in [4428.5, 4523.4]:
    ax3.text(x, 1.254, 'Teff', color=GREEN2, ha='center', va='center', **LAB)
ax3.vlines(oii_single, 0.777, 0.92, color=MAG, lw=2, zorder=4)
for x1, x2 in oii_forks + nii_fork:
    ax3.plot([x1, x1], [0.777, 0.914], color=MAG, lw=2, zorder=4)
    ax3.plot([x1, x2, x2], [0.829, 0.874, 0.92], color=MAG, lw=2, zorder=4)
bx0, bx1 = blend_bracket
ax3.plot([bx0, bx0, bx1, bx1], [0.806, 0.783, 0.783, 0.806], color=MAG, lw=2, zorder=4)
for x, t in [(4074.2, 'OII'), (4172.5, 'OII'), (4256.2, 'OII'), (4311.0, 'OII'),
             (4369.0, 'OII'), (4414.7, 'OII'), (4604.3, 'NII'), (4665.2, 'OII+NII+CIII')]:
    ax3.text(x, 0.726, t, color=MAG, fontsize=15, ha='center', va='center')
ax3.text(4674.2, 0.60, 'Sk191', **SK)
ax3.set_xlabel('WAVELENGTH  (Å)', labelpad=0, **XLAB)
ax3.set_ylabel('ARB.  FLUX  UNITS', labelpad=1, **XLAB)

# ---------- Panel 4 ----------
draw_spec(ax4, wave_ha, flux_ha)
style(ax4, (6470, 6601), (0.502, 1.5), 60, 5, 0.2, 0.1, ylen=(3.5, 2.0),
      xticks=[6500, 6560], yticks=[0.6, 0.8, 1.0, 1.2, 1.4], ylabels=False)
rbox(ax4, 6552.1, 6575.5, 0.56, 1.463, ORANGE)
top_label(ax4, 6563.0, 'HI', ORANGE, y=1.014)
ax4.text(6491.5, 1.401, 'Mdot', color=ORANGE, ha='left', va='center', **LAB)
ax4.text(6491.5, 1.309, 'clumping', color=ORANGE, ha='left', va='center', **LAB)
ax4.vlines(ha_single, 0.777, 0.92, color=MAG, lw=2, zorder=4)
for x1, x2 in ha_forks:
    ax4.plot([x1, x1], [0.777, 0.914], color=MAG, lw=2, zorder=4)
    ax4.plot([x1, x2, x2], [0.829, 0.874, 0.92], color=MAG, lw=2, zorder=4)
ax4.text(6485.1, 0.726, 'NII', color=MAG, fontsize=15, ha='center', va='center')
ax4.text(6586.0, 0.726, 'CII', color=MAG, fontsize=15, ha='center', va='center')
ax4.text(6505.6, 0.60, 'Sk191', **SK)

fig.savefig('out.png', dpi=100, facecolor='white')
